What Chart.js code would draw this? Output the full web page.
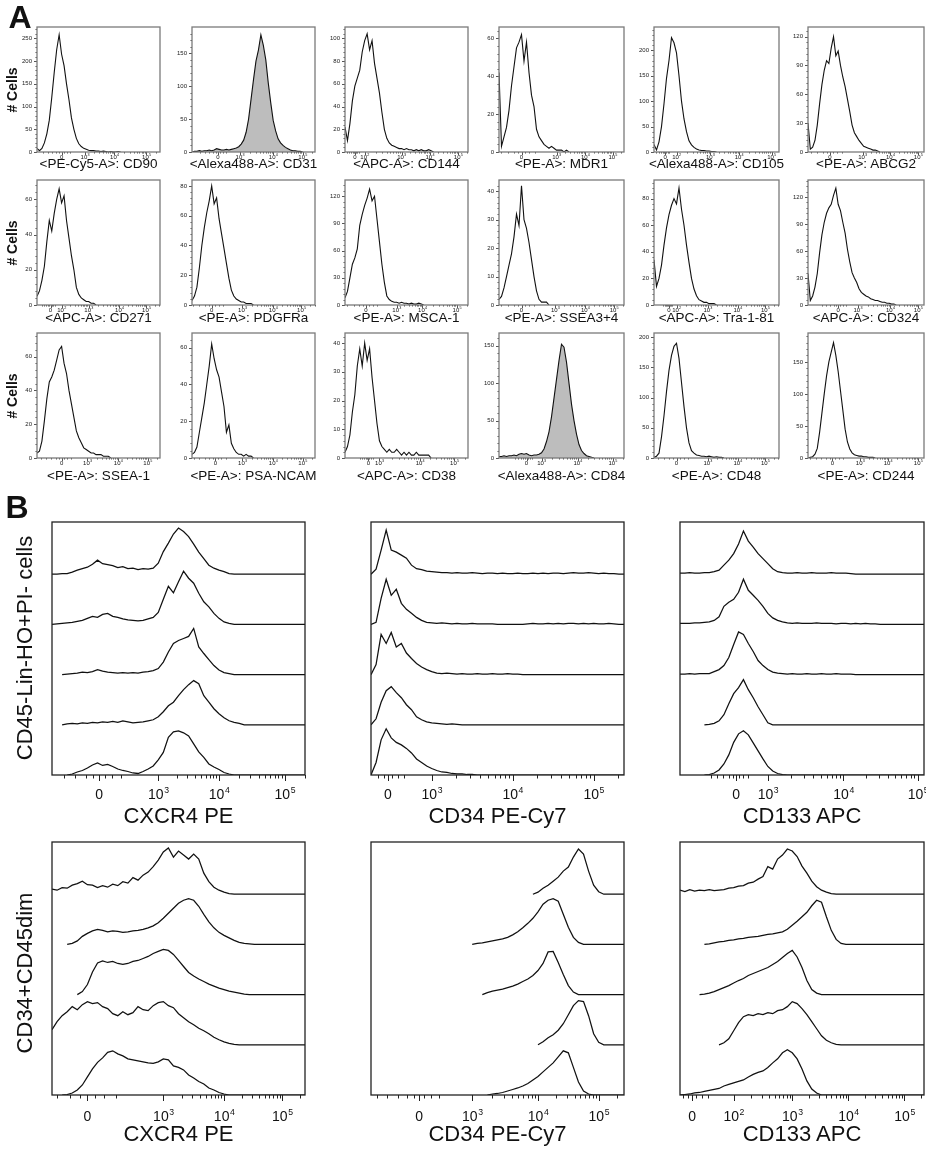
<!DOCTYPE html>
<html><head><meta charset="utf-8">
<script src="https://cdn.jsdelivr.net/npm/chart.js@4.4.1/dist/chart.umd.min.js"></script>
<style>
html,body{margin:0;padding:0;background:#fff;}
#page{position:relative;width:926px;height:1149px;overflow:hidden;font-family:"Liberation Sans",Arial,Helvetica,sans-serif;color:#111;}
canvas{position:absolute;}
.t{position:absolute;white-space:nowrap;transform:translate(-50%,-50%);line-height:1;}
.rot{transform:translate(-50%,-50%) rotate(-90deg);}
</style></head><body><div id="page"></div>
<script>
// ---------------- DATA ----------------
// tick label sets
const LBL_D  = ['0','10³','10⁴','10⁵'];
const LBL_D2 = ['0','10²','10³','10⁴','10⁵'];

// Panel A: titles (row by row)
const panelATitles = ['<PE-Cy5-A>: CD90','<Alexa488-A>: CD31','<APC-A>: CD144','<PE-A>: MDR1','<Alexa488-A>: CD105','<PE-A>: ABCG2',
  '<APC-A>: CD271','<PE-A>: PDGFRa','<PE-A>: MSCA-1','<PE-A>: SSEA3+4','<APC-A>: Tra-1-81','<APC-A>: CD324',
  '<PE-A>: SSEA-1','<PE-A>: PSA-NCAM','<APC-A>: CD38','<Alexa488-A>: CD84','<PE-A>: CD48','<PE-A>: CD244'];
// Panel A y-axis maximum and tick step (# cells)
const panelAYMax  = [275,190,110,66,246,130, 71,84,138,44,94,139, 74,68,43.5,167,207,195];
const panelAYStep = [50,50,20,20,50,30, 20,20,30,10,20,30, 20,20,10,50,50,50];
// Panel A filled (positive) histograms
const panelAFilled = [false,true,false,false,false,false, false,false,false,false,false,false, false,false,false,true,false,false];
// Panel A histogram counts: one value per 2 % of the display axis, from the left edge
const cd90Counts   = [8,3,8,20,40,70,120,175,225,258,215,190,150,115,75,50,30,18,12,8,6,4,3,3,2,2,1,2,1,0,1,0,0,1,0];
const cd31Counts   = [0,1,1,2,1,2,2,3,2,3,5,4,3,3,4,3,4,5,6,8,12,18,30,50,80,110,138,155,178,162,140,105,75,48,32,20,14,10,7,5,3,2,2,1,1,0];
const cd144Counts  = [22,10,25,45,58,65,72,88,98,104,90,98,78,65,52,35,20,12,8,6,5,4,3,3,2,3,2,2,1,2,1,2,1,1,2,1,0];
const mdr1Counts   = [42,3,8,13,22,35,45,55,58,62,48,58,42,30,24,12,8,6,4,3,2,3,2,1,1,1,0,1,0];
const cd105Counts  = [15,4,20,50,95,145,180,225,215,195,150,100,65,40,22,14,9,6,4,3,3,2,2,1,1,0];
const abcg2Counts  = [30,3,5,12,28,50,70,85,95,92,108,120,100,105,90,78,68,55,42,28,20,16,12,9,6,5,4,3,2,2,1,0];
const cd271Counts  = [5,8,14,22,36,48,42,52,60,66,58,62,48,38,28,20,10,6,4,3,2,2,1,1,0];
const pdgfraCounts = [3,6,12,25,40,52,62,70,80,68,72,58,48,38,28,18,10,6,4,3,2,2,1,1,1,0];
const msca1Counts  = [8,15,30,45,52,62,88,100,110,118,128,115,120,95,70,45,25,10,6,4,3,3,2,3,2,2,1,2,1,1,2,1,0];
const ssea34Counts = [2,3,6,10,14,18,24,32,28,42,30,27,22,16,10,5,2,1,1,1,0];
const tra181Counts = [34,14,20,30,45,58,68,75,80,76,88,72,60,45,32,20,12,7,4,3,2,2,1,1,1,0];
const cd324Counts  = [35,5,10,20,35,58,78,92,102,108,112,122,130,112,105,92,80,62,48,36,30,25,18,14,12,10,9,7,6,5,5,4,3,3,2,2,1,1,0];
const ssea1Counts  = [3,4,10,22,35,45,48,52,58,64,66,56,50,40,32,24,16,12,9,6,5,4,3,3,2,2,2,1,1,1,0];
const psancamCounts= [2,3,6,14,22,30,40,50,62,54,48,44,36,28,14,18,8,5,3,2,2,1,2,1,1,0];
const cd38Counts   = [2,4,8,16,22,32,38,32,40,34,38,28,20,12,6,4,3,2,3,2,2,3,2,1,2,1,2,1,1,2,1,1,1,1,1,0];
const cd84Counts   = [2,2,3,2,3,3,4,3,5,6,5,6,4,3,4,4,5,7,12,22,35,55,80,105,130,152,148,128,100,72,50,32,18,10,6,3,2,1,0];
const cd48Counts   = [1,3,8,35,70,110,145,170,185,190,165,125,85,50,25,12,8,5,4,3,3,2,3,2,1,2,1,1,0];
const cd244Counts  = [0,1,2,6,15,40,70,100,128,150,165,180,160,135,105,75,45,25,14,8,5,4,3,3,2,2,1,1,1,0];
// Panel A x tick label positions (percent of axis width)
const cd90Ticks=[20,39,63,89], cd31Ticks=[21,39,66,90], cd144Ticks=[8,16,46,69,92], mdr1Ticks=[18,46,69,91], cd105Ticks=[9,18,45,68,94], abcg2Ticks=[19,47,71,95];
const cd271Ticks=[11,20,42,67,89], pdgfraTicks=[16,41,66,89], msca1Ticks=[17,42,63,91], ssea34Ticks=[18,45,69,92], tra181Ticks=[12,18,43,67,89], cd324Ticks=[26,43,71,95];
const ssea1Ticks=[20,41,66,90], psancamTicks=[19,41,66,90], cd38Ticks=[19,28,61,89], cd84Ticks=[22,34,63,91], cd48Ticks=[18,43,67,89], cd244Ticks=[21,45,69,95];

// Panel B: offset histograms (values in % of one offset slot, one value per 2 % of the axis, from the start)
const cxcr4TopStart = [0,0,4,4,6];
const cxcr4TopTraces = [
 [0,0,1,1,4,8,11,14,20,28,21,19,17,13,15,11,12,9,11,10,12,22,45,62,80,92,85,75,60,44,31,18,12,8,5,1,0],
 [0,1,2,3,4,6,8,12,16,14,20,22,16,14,11,9,8,7,8,11,14,24,50,76,63,85,106,92,82,62,45,35,22,12,5,2,0],
 [0,1,2,3,5,4,6,10,7,5,4,3,4,3,4,3,5,6,8,12,25,45,62,68,72,76,92,55,42,30,18,9,4,2,0],
 [0,2,3,2,4,3,5,4,6,5,7,5,8,6,4,5,6,8,10,16,26,38,45,58,70,80,88,82,58,45,32,22,14,8,5,3,0],
 [0,2,6,9,14,20,24,19,21,17,12,9,7,4,3,7,12,18,30,45,75,86,88,84,78,62,46,35,22,16,11,5,2,0]];
const cd34TopStart = [0,0,0,0,0];
const cd34TopTraces = [
 [0,10,48,88,48,44,38,32,18,11,9,6,5,4,3,3,2,3,2,2,3,2,1,2,2,1,2,1,1,2,1,1,2,1,2,1,2,2,1,2,3,2,2,3,2,1,2,1,1,0],
 [0,4,52,90,58,70,42,30,22,14,8,4,3,2,3,2,1,2,1,1,2,1,1,1,1,0,0,0,0,0,0,1,2,1,1,2,1,2,1,2,2,1,2,1,2,1,1,2,1,0],
 [0,20,80,62,84,55,62,43,32,22,15,10,6,3,2,3,2,1,2,1,1,2,1,1,2,1,1,2,1,1,0],
 [0,12,45,68,76,64,54,40,30,16,10,6,4,3,2,1,2,1,0],
 [0,25,70,92,74,65,60,53,44,32,25,18,13,9,6,5,3,2,2,1,1,0]];
const cd133TopStart = [0,0,0,10,10];
const cd133TopTraces = [
 [2,2,3,2,2,3,3,5,8,18,28,41,60,86,66,54,41,31,21,11,5,3,2,2,3,2,2,3,2,2,2,3,2,2,2,1,0],
 [2,2,2,3,3,4,5,8,15,36,44,50,64,90,68,58,48,36,22,13,8,5,3,2,3,2,2,2,3,2,2,2,1,2,2,1,2,1,2,1,1,0],
 [1,1,2,1,2,2,2,6,10,18,34,60,85,80,62,46,28,18,10,5,3,2,1,2,1,1,2,1,1,2,1,1,2,1,1,1,0],
 [0,1,3,8,20,42,62,74,90,70,54,36,20,4,0],
 [0,1,4,10,22,40,65,82,88,80,64,48,32,17,8,3,1,0]];
const cxcr4BotStart = [0,6,10,0,4];
const cxcr4BotTraces = [
 [10,8,13,12,18,21,26,19,18,13,17,14,20,17,25,22,33,28,38,44,55,68,84,92,74,86,78,70,80,70,42,25,14,8,4,1,0],
 [0,2,7,16,22,27,30,28,25,27,26,24,25,27,28,30,33,37,43,52,62,72,82,88,91,88,76,60,45,33,24,18,13,8,4,2,1,0],
 [0,6,20,45,63,67,64,66,62,60,62,66,68,72,76,82,86,90,88,80,68,56,44,37,31,26,21,17,13,10,7,5,3,1,0],
 [30,46,58,66,76,70,80,86,82,84,76,72,62,58,66,60,64,76,70,68,78,84,86,78,74,62,54,46,40,33,28,22,15,10,6,3,1,0],
 [0,1,4,10,20,36,52,65,74,85,88,82,78,72,70,68,66,64,63,66,72,70,58,55,50,40,34,27,22,14,10,5,2,0]];
const cd34BotStart = [64,40,44,66,46];
const cd34BotTraces = [
 [0,4,12,18,26,34,46,54,74,90,80,46,18,5,0],
 [0,2,3,5,7,9,11,14,19,25,33,42,52,65,80,88,91,86,60,34,14,4,0],
 [0,4,7,9,11,14,17,21,26,31,38,48,62,85,86,64,40,18,5,0],
 [0,6,14,20,29,42,60,78,88,86,58,22,5,0],
 [0,2,3,5,8,11,14,18,23,30,37,46,55,64,76,88,84,55,26,8,2,0]];
const cd133BotStart = [0,10,8,16,0];
const cd133BotTraces = [
 [8,5,9,6,8,7,9,7,8,9,12,13,16,17,22,24,30,35,55,50,70,78,90,86,75,56,42,26,15,8,4,1,0],
 [0,1,3,5,6,8,9,11,12,14,15,16,18,20,21,23,25,30,38,46,55,64,77,88,84,55,28,10,2,0],
 [0,1,3,6,10,14,18,23,28,32,38,42,46,50,54,60,66,74,82,88,75,54,28,10,3,0],
 [0,4,12,28,44,56,60,58,62,60,64,62,68,70,76,86,82,72,60,46,32,18,9,4,1,0],
 [0,1,2,4,5,7,9,11,13,18,21,24,27,30,36,41,45,48,55,64,72,84,90,84,72,52,28,12,4,0]];
// Panel B x tick label positions (percent of axis width)
const cxcr4TopTicks=[18.6,42,66,92], cd34TopTicks=[6.7,24,56,88], cd133TopTicks=[23,36,67,97.5];
const cxcr4BotTicks=[14,44,68,91], cd34BotTicks=[19,40,66,90], cd133BotTicks=[5,22,46,69,92];
const panelBTitles = ['CXCR4 PE','CD34 PE-Cy7','CD133 APC'];
const panelBRowLabels = ['CD45-Lin-HO+PI- cells','CD34+CD45dim'];

// ---------------- RENDERING ----------------
const FONT = '"Liberation Sans", Arial, Helvetica, sans-serif';
const SUP = {'²':'2','³':'3','⁴':'4','⁵':'5'};
const page = document.getElementById('page');
Chart.defaults.font.family = FONT;

function addText(txt, x, y, size, opts) {
  opts = opts || {};
  const d = document.createElement('div');
  d.className = 't' + (opts.rot ? ' rot' : '');
  d.textContent = txt;
  d.style.left = x + 'px'; d.style.top = y + 'px';
  d.style.fontSize = size + 'px';
  if (opts.bold) d.style.fontWeight = 'bold';
  page.appendChild(d);
}

function minorTicks(pos, labels) {
  const out = [];
  for (let i = 0; i < pos.length - 1; i++) {
    const a = pos[i], b = pos[i + 1];
    if (labels[i] !== '0') { for (let k = 2; k < 10; k++) out.push(a + (b - a) * Math.log10(k)); }
    else { const d = b - a; [-1.6,-1.2,-0.8,-0.45,-0.2,0.2,0.45,0.75].forEach(f => out.push(a + d * f * 0.5)); }
  }
  const n = pos.length, a = pos[n - 2], b = pos[n - 1];
  for (let k = 2; k < 10; k++) { const p = b + (b - a) * Math.log10(k); if (p <= 100) out.push(p); }
  return out;
}

function makeDecor(d) {
  return {
    id: 'decor',
    afterDatasetsDraw(chart) {
      const ctx = chart.ctx, a = chart.chartArea, xs = chart.scales.x;
      ctx.save();
      ctx.strokeStyle = d.tickColor; ctx.lineWidth = 1;
      ctx.beginPath();
      const xt = (list, len) => list.forEach(v => {
        if (v < 0 || v > 100) return;
        const px = Math.round(xs.getPixelForValue(v)) + 0.5;
        ctx.moveTo(px, a.bottom); ctx.lineTo(px, a.bottom + len);
      });
      xt(d.xMajor, d.majorLen); xt(d.xMinor, d.minorLen);
      if (d.yMajor) {
        const ys = chart.scales.y;
        const yt = (list, len) => list.forEach(v => {
          const py = Math.round(ys.getPixelForValue(v)) + 0.5;
          ctx.moveTo(a.left, py); ctx.lineTo(a.left - len, py);
        });
        yt(d.yMajor, d.majorLen); yt(d.yMinor, d.minorLen);
      }
      ctx.stroke();
      ctx.strokeStyle = d.boxColor; ctx.lineWidth = d.boxWidth;
      ctx.strokeRect(a.left, a.top, a.right - a.left, a.bottom - a.top);
      // x tick labels: "10" with a raised exponent, placed by the x scale
      ctx.fillStyle = d.labelColor; ctx.textBaseline = 'alphabetic';
      const s = d.labelSize, es = s * 0.62, y = a.bottom + d.labelOffset;
      d.xMajor.forEach((v, i) => {
        const lab = d.xLabels[i], px = xs.getPixelForValue(v);
        ctx.font = s + 'px ' + FONT;
        if (lab === '0') { ctx.textAlign = 'center'; ctx.fillText('0', px, y); return; }
        const base = '10', exp = SUP[lab.slice(2)];
        const bw = ctx.measureText(base).width;
        ctx.font = es + 'px ' + FONT; const ew = ctx.measureText(exp).width;
        const x0 = px - (bw + ew) / 2;
        ctx.textAlign = 'left';
        ctx.font = s + 'px ' + FONT; ctx.fillText(base, x0, y);
        ctx.font = es + 'px ' + FONT; ctx.fillText(exp, x0 + bw + s * 0.04, y - s * 0.42);
      });
      ctx.restore();
    }
  };
}

function makeChart(box, pad, datasets, xCfg, yCfg, decor) {
  const c = document.createElement('canvas');
  const W = box.w + pad.l + pad.r, H = box.h + pad.t + pad.b;
  c.width = W; c.height = H;
  c.style.left = (box.x - pad.l) + 'px'; c.style.top = (box.y - pad.t) + 'px';
  c.style.width = W + 'px'; c.style.height = H + 'px';
  page.appendChild(c);
  const yScale = yCfg.display ? {
      type: 'linear', min: 0, max: yCfg.max,
      grid: { display: false, drawTicks: false }, border: { display: false },
      afterBuildTicks: s => { s.ticks = yCfg.major.map(v => ({ value: v })); },
      afterFit: s => { s.width = pad.l; s.paddingTop = 0; s.paddingBottom = 0; },
      ticks: { autoSkip: false, padding: yCfg.padding, color: '#222', font: { family: FONT, size: yCfg.size }, callback: v => String(v) }
    } : { type: 'linear', display: false, min: 0, max: yCfg.max };
  new Chart(c, {
    type: 'line',
    data: { datasets },
    options: {
      responsive: false, animation: false, events: [],
      layout: { padding: { left: yCfg.display ? 0 : pad.l, top: pad.t, right: pad.r, bottom: 0 } },
      plugins: { legend: { display: false }, tooltip: { enabled: false } },
      elements: { point: { radius: 0 }, line: { tension: 0 } },
      scales: {
        x: {
          type: 'linear', min: 0, max: 100,
          grid: { display: false, drawTicks: false }, border: { display: false },
          afterBuildTicks: s => { s.ticks = xCfg.pos.map(v => ({ value: v })); },
          afterFit: s => { s.height = pad.b; s.paddingLeft = 0; s.paddingRight = 0; },
          ticks: { display: false, autoSkip: false, callback: (v, i) => xCfg.labels[i] }
        },
        y: yScale
      }
    },
    plugins: [makeDecor(Object.assign({ xLabels: xCfg.labels, labelSize: xCfg.size, labelOffset: xCfg.offset, labelColor: '#111' }, decor))]
  });
}

// ----- Panel A -----
const panelACounts = [cd90Counts,cd31Counts,cd144Counts,mdr1Counts,cd105Counts,abcg2Counts,
  cd271Counts,pdgfraCounts,msca1Counts,ssea34Counts,tra181Counts,cd324Counts,
  ssea1Counts,psancamCounts,cd38Counts,cd84Counts,cd48Counts,cd244Counts];
const panelATicks = [cd90Ticks,cd31Ticks,cd144Ticks,mdr1Ticks,cd105Ticks,abcg2Ticks,
  cd271Ticks,pdgfraTicks,msca1Ticks,ssea34Ticks,tra181Ticks,cd324Ticks,
  ssea1Ticks,psancamTicks,cd38Ticks,cd84Ticks,cd48Ticks,cd244Ticks];
const colLeft = [37,192,345,499,654,808], colWidth = [123,123,123,125,125,116];
const rowTop = [27,180,333], boxHA = 125, titleY = [164,318,476];

panelACounts.forEach((counts, k) => {
  const r = Math.floor(k / 6), c = k % 6;
  const ymax = panelAYMax[k], step = panelAYStep[k];
  const yMaj = [], yMin = [];
  for (let v = 0; v <= ymax + 1e-9; v += step) yMaj.push(v);
  for (let j = 1; j * step / 5 < ymax; j++) if (j % 5 !== 0) yMin.push(j * step / 5);
  const tp = panelATicks[k];
  const labels = tp.length === 5 ? LBL_D2 : LBL_D;
  const ds = [{
    data: counts.map((v, i) => ({ x: i * 2, y: v })),
    borderColor: '#111', borderWidth: 1.1, pointRadius: 0,
    fill: panelAFilled[k] ? 'origin' : false, backgroundColor: '#bdbdbd'
  }];
  makeChart({ x: colLeft[c], y: rowTop[r], w: colWidth[c], h: boxHA },
    { l: 26, t: 4, r: 3, b: 10 }, ds,
    { pos: tp, labels: labels, offset: 7, size: 6 },
    { display: true, max: ymax, major: yMaj, padding: 5, size: 6 },
    { xMajor: tp, xMinor: minorTicks(tp, labels), yMajor: yMaj, yMinor: yMin,
      majorLen: 3, minorLen: 1.5, tickColor: '#555', boxColor: '#7a7a7a', boxWidth: 1.3 });
  addText(panelATitles[k], colLeft[c] + colWidth[c] / 2, titleY[r], 13.5);
});
rowTop.forEach(t => addText('# Cells', 12, t + boxHA / 2, 14, { rot: true, bold: true }));
addText('A', 20, 17, 32, { bold: true });

// ----- Panel B -----
const bCols = [[52,253],[371,253],[680,244]];
const bRowTop = [522, 842], boxHB = 253;
const bTitleY = [816, 1134];
const bLabelOffset = [24, 26];
const panelBStarts = [[cxcr4TopStart,cd34TopStart,cd133TopStart],[cxcr4BotStart,cd34BotStart,cd133BotStart]];
const panelBTraces = [[cxcr4TopTraces,cd34TopTraces,cd133TopTraces],[cxcr4BotTraces,cd34BotTraces,cd133BotTraces]];
const panelBTicks = [[cxcr4TopTicks,cd34TopTicks,cd133TopTicks],[cxcr4BotTicks,cd34BotTicks,cd133BotTicks]];

for (let r = 0; r < 2; r++) {
  for (let c = 0; c < 3; c++) {
    const traces = panelBTraces[r][c], starts = panelBStarts[r][c];
    const ds = traces.map((vals, k) => {
      const base = 4 - k;
      const pts = vals.map((v, i) => ({ x: starts[k] + i * 2, y: base + v / 100 }));
      pts.push({ x: 100, y: base });
      return { data: pts, borderColor: '#111', borderWidth: 1.25, pointRadius: 0, fill: false };
    });
    const tp = panelBTicks[r][c];
    const labels = tp.length === 5 ? LBL_D2 : LBL_D;
    makeChart({ x: bCols[c][0], y: bRowTop[r], w: bCols[c][1], h: boxHB },
      { l: 2, t: 2, r: 2, b: 34 }, ds,
      { pos: tp, labels: labels, offset: bLabelOffset[r], size: 14 },
      { display: false, max: 5.04 },
      { xMajor: tp, xMinor: minorTicks(tp, labels), majorLen: 6, minorLen: 3.5,
        tickColor: '#222', boxColor: '#222', boxWidth: 1.3 });
    addText(panelBTitles[c], bCols[c][0] + bCols[c][1] / 2, bTitleY[r], 22);
  }
  addText(panelBRowLabels[r], 25, bRowTop[r] + boxHB / 2 + (r === 0 ? -1 : 4), 22, { rot: true });
}
addText('B', 17, 507, 32, { bold: true });
</script></body></html>
